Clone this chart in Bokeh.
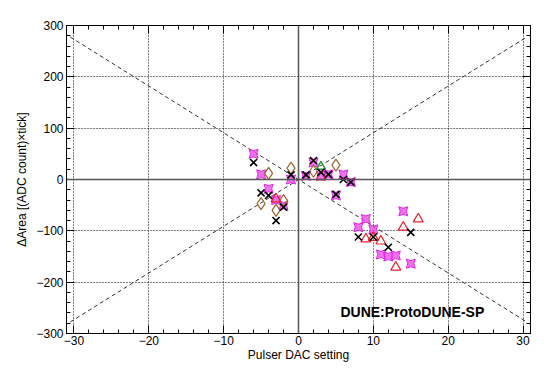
from bokeh.plotting import figure
from bokeh.models import (LinearAxis, Range1d, Span, Label, FixedTicker,
                          CustomJSTickFormatter, Grid)
from bokeh.embed import file_html
from bokeh.resources import INLINE

# ---- data ----
mag_x = [-6, -5, -4, -3, -2, -1, 1, 2, 3, 4, 5, 6, 7, 8, 9, 10, 11, 12, 13, 14, 15]
mag_y = [50, 10, -18, -40, -51, 0, 7, 33, 7, 10, -31, 10, -5, -93, -77, -97, -146, -150, -148, -62, -164]

blk_x = [-6, -5, -4, -3, -2, -1, 1, 2, 3, 4, 5, 6, 7, 8, 10, 12, 15]
blk_y = [33, -26, -31, -80, -54, 9, 9, 37, 14, 10, -29, 0, -5, -112, -112, -132, -103]

brn_x = [-5, -4, -3, -2, -1, 2, 5]
brn_y = [-47, 12, -60, -41, 22, 16, 28]

red_x = [-3, 3, 9, 10, 11, 13, 14, 16]
red_y = [-38, 5, -116, -113, -120, -171, -93, -77]

grn_x = [3]
grn_y = [25]

guide_slope = 9.1
guide_x = [-30.5, 30.5]

x_ticks = [-30, -20, -10, 0, 10, 20, 30]
y_ticks = [-300, -200, -100, 0, 100, 200, 300]
x_minor = [v for v in range(-30, 31, 2)]
y_minor = [v for v in range(-300, 301, 20)]

FONT = "Liberation Sans"

p = figure(width=541, height=364, output_backend="svg", toolbar_location=None,
           x_range=Range1d(-31, 31), y_range=Range1d(-300, 300),
           x_axis_location=None, y_axis_location=None,
           min_border_left=66, min_border_right=11, min_border_top=25, min_border_bottom=31)
p.background_fill_color = "white"
p.border_fill_color = "white"
p.outline_line_color = "black"
p.outline_line_width = 1

fmt = CustomJSTickFormatter(code="return tick.toFixed(0).replace('-', '\u2212');")
blank = CustomJSTickFormatter(code="return '';")

def make_axis(kind, loc, labels):
    ax = LinearAxis()
    if kind == "x":
        ax.ticker = FixedTicker(ticks=x_ticks, minor_ticks=x_minor)
    else:
        ax.ticker = FixedTicker(ticks=y_ticks, minor_ticks=y_minor)
    ax.formatter = fmt if labels else blank
    ax.axis_line_color = "black"
    ax.major_tick_in = 8
    ax.major_tick_out = 0
    ax.minor_tick_in = 4
    ax.minor_tick_out = 0
    ax.major_tick_line_color = "black"
    ax.minor_tick_line_color = "black"
    ax.major_label_text_font = FONT
    ax.major_label_text_font_size = "12px"
    ax.major_label_text_color = "black"
    ax.axis_label_text_font = FONT
    ax.axis_label_text_font_size = "12px"
    ax.axis_label_text_font_style = "normal"
    ax.axis_label_text_color = "black"
    if not labels:
        ax.major_label_standoff = 0
    p.add_layout(ax, loc)
    return ax

xb = make_axis("x", "below", True)
xb.axis_label = "Pulser DAC setting"
xb.major_label_standoff = 2
xb.axis_label_standoff = 0
yl = make_axis("y", "left", True)
yl.axis_label = "\u0394Area [(ADC count)\u00d7tick]"
yl.major_label_standoff = 3
yl.axis_label_standoff = 4
make_axis("x", "above", False)
make_axis("y", "right", False)

gx = Grid(dimension=0, ticker=FixedTicker(ticks=x_ticks), grid_line_color="black",
          grid_line_dash="1 2", grid_line_width=1, grid_line_alpha=0.85)
gy = Grid(dimension=1, ticker=FixedTicker(ticks=y_ticks), grid_line_color="black",
          grid_line_dash="1 2", grid_line_width=1, grid_line_alpha=0.85)
p.add_layout(gx)
p.add_layout(gy)

p.add_layout(Span(location=0, dimension="width", line_color="#555555", line_width=1.5))
p.add_layout(Span(location=0, dimension="height", line_color="#555555", line_width=1.5))

p.line(guide_x, [guide_slope * v for v in guide_x], line_color="#333333",
       line_dash="4 3", line_width=1)
p.line(guide_x, [-guide_slope * v for v in guide_x], line_color="#333333",
       line_dash="4 3", line_width=1)

p.scatter(mag_x, mag_y, marker="square_pin", size=9, fill_color="#e84ce8",
          fill_alpha=0.8, line_color="#e020e0", line_width=1)
p.scatter(brn_x, brn_y, marker="diamond", size=12, fill_color=None,
          line_color="#a0642a", line_width=1.2)
p.scatter(red_x, red_y, marker="triangle", size=10, fill_color=None,
          line_color="#e8242a", line_width=1.2)
p.scatter(grn_x, grn_y, marker="triangle", size=9, fill_color=None,
          line_color="#2e9a3a", line_width=1.5)
p.scatter(blk_x, blk_y, marker="x", size=10, line_color="black", line_width=1.6)

p.add_layout(Label(x=5.6, y=-258, text="DUNE:ProtoDUNE-SP", text_font=FONT,
                   text_font_size="14px", text_font_style="bold",
                   text_baseline="middle", text_color="black"))

open("out.html", "w").write(file_html(p, INLINE))
